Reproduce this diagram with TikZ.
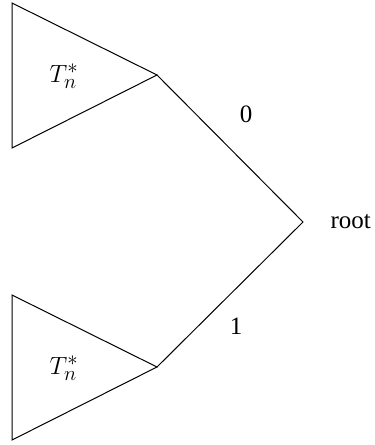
\documentclass[tikz,border=0pt]{standalone}
\usepackage{fontspec}
\setmainfont{Liberation Serif}
\begin{document}
\begin{tikzpicture}[x=1pt,y=-1pt,line width=1pt,
  lbl/.style={inner sep=0pt,font=\fontsize{25}{30}\selectfont},
  mlbl/.style={inner sep=0pt,font=\fontsize{28}{33}\selectfont},
  tri/.style={draw,line join=miter}]
\useasboundingbox (0,0) rectangle (375,445);
\coordinate (a1) at (12,3);
\coordinate (a2) at (12,148);
\coordinate (t) at (157,75);
\coordinate (b1) at (12,295);
\coordinate (b2) at (12,440);
\coordinate (b) at (157,367);
\coordinate (r) at (303,222);
\draw[tri] (a1) -- (a2) -- (t) -- cycle;
\draw[tri] (b1) -- (b2) -- (b) -- cycle;
\draw (t) -- (r) -- (b);
\node[mlbl] (lt) at (64,76) {$T_n^*$};
\node[mlbl] (lb) at (64,368) {$T_n^*$};
\node[lbl] (l0) at (246,114) {0};
\node[lbl] (l1) at (236,326) {1};
\node[lbl,anchor=west] (root) at (330,222) {root};
\end{tikzpicture}
\end{document}
